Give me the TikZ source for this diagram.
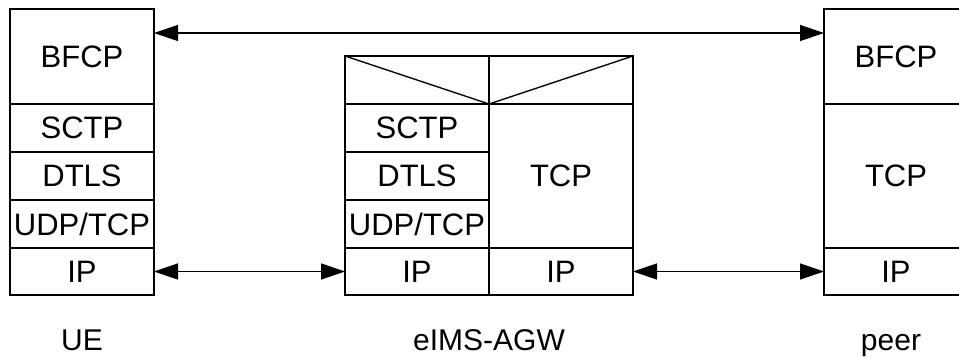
\documentclass[tikz,border=0pt]{standalone}
\usepackage{fontspec}
\setmainfont{Liberation Sans}
\usetikzlibrary{arrows.meta,positioning}
\tikzset{
  layer/.style={draw,line width=1.3pt,outer sep=0pt,inner sep=0pt,minimum width=144pt,font=\fontsize{31}{36}\selectfont},
  slim/.style={layer,minimum height=48pt},
  tall/.style={layer,minimum height=95pt},
  base/.style={layer,minimum height=47pt},
  link/.style={{Triangle[length=24pt,width=16pt]}-{Triangle[length=24pt,width=16pt]},line width=1.3pt},
  caption/.style={font=\fontsize{30}{34}\selectfont,inner sep=0pt,anchor=base}
}
\begin{document}
\begin{tikzpicture}[x=1pt,y=-1pt]
\useasboundingbox (0,0) rectangle (959,358);
% UE stack
\node[tall,anchor=north west] (ue-bfcp) at (10,9) {BFCP};
\node[slim,below=0pt of ue-bfcp] (ue-sctp) {SCTP};
\node[slim,below=0pt of ue-sctp] (ue-dtls) {DTLS};
\node[slim,below=0pt of ue-dtls] (ue-udp) {UDP/TCP};
\node[base,below=0pt of ue-udp] (ue-ip) {IP};
% eIMS-AGW stack
\node[slim,anchor=north west] (agw-top-l) at (345,56) {};
\node[slim,right=0pt of agw-top-l] (agw-top-r) {};
\node[slim,below=0pt of agw-top-l] (agw-sctp) {SCTP};
\node[slim,below=0pt of agw-sctp] (agw-dtls) {DTLS};
\node[slim,below=0pt of agw-dtls] (agw-udp) {UDP/TCP};
\node[base,below=0pt of agw-udp] (agw-ip-l) {IP};
\node[layer,minimum height=144pt,below=0pt of agw-top-r] (agw-tcp) {TCP};
\node[base,below=0pt of agw-tcp] (agw-ip-r) {IP};
\draw[line width=1.3pt] (agw-top-l.north west) -- (agw-top-l.south east) -- (agw-top-r.north east);
% peer stack
\node[tall,anchor=north west] (peer-bfcp) at (824,9) {BFCP};
\node[layer,minimum height=144pt,below=0pt of peer-bfcp] (peer-tcp) {TCP};
\node[base,below=0pt of peer-tcp] (peer-ip) {IP};
% connectors
\coordinate (bfcp-level) at (0,33);
\draw[link] (ue-bfcp.east |- bfcp-level) -- (peer-bfcp.west |- bfcp-level);
\draw[link] (ue-ip.east) -- (agw-ip-l.west);
\draw[link] (agw-ip-r.east) -- (peer-ip.west);
% labels
\node[caption] (ue-label) at (82,350) {UE};
\node[caption] (agw-label) at (489,350) {eIMS-AGW};
\node[caption] (peer-label) at (891,350) {peer};
\end{tikzpicture}
\end{document}
